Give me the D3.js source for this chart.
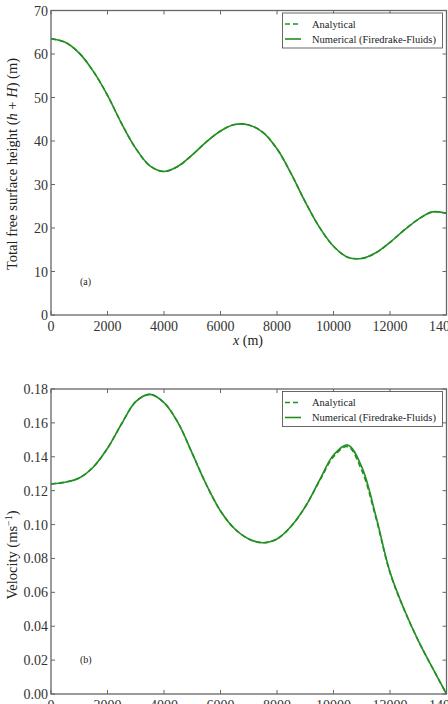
<!DOCTYPE html>
<html>
<head>
<meta charset="utf-8">
<script src="https://cdn.jsdelivr.net/npm/d3@7"></script>
<style>
  body { margin: 0; background: #fff; }
  svg { display: block; font-family: "Liberation Serif", "DejaVu Serif", serif; }
</style>
</head>
<body>
<svg width="448" height="704"></svg>
<script>
// data
var xs = [0,500,1000,1500,2000,2500,3000,3500,4000,4500,5000,5500,6000,6500,7000,
          7500,8000,8500,9000,9500,10000,10500,11000,11500,12000,12500,13000,13500,14000];

// (a) total free surface height
var heightNum = [63.5,62.7,60.2,56.0,50.5,44.0,38.3,34.3,33.0,34.2,36.8,39.8,42.3,43.8,43.7,
                 42.0,38.2,32.5,26.0,20.2,15.8,13.3,13.0,14.3,16.7,19.5,22.0,23.7,23.4];
var heightAna = [63.5,62.7,60.2,56.0,50.5,44.0,38.3,34.3,33.0,34.2,36.8,39.8,42.3,43.8,43.7,
                 42.0,38.2,32.5,26.0,20.2,15.8,13.3,13.0,14.3,16.7,19.5,22.0,23.7,23.4];

// (b) velocity
var velNum = [0.1240,0.1250,0.1275,0.1340,0.1450,0.1595,0.1725,0.1768,0.1720,0.1600,0.1420,0.1235,0.1080,0.0975,0.0915,
              0.0893,0.0915,0.0990,0.1105,0.1260,0.1410,0.1470,0.1340,0.1050,0.0720,0.0500,0.0315,0.0155,0.0000];
var velAna = [0.1240,0.1250,0.1275,0.1340,0.1450,0.1595,0.1725,0.1768,0.1720,0.1600,0.1420,0.1235,0.1080,0.0975,0.0915,
              0.0893,0.0915,0.0990,0.1105,0.1255,0.1400,0.1460,0.1320,0.1040,0.0715,0.0498,0.0315,0.0155,0.0000];

var xTicks = [0,2000,4000,6000,8000,10000,12000,14000];
var hTicks = [0,10,20,30,40,50,60,70];
var vTicks = [0,0.02,0.04,0.06,0.08,0.10,0.12,0.14,0.16,0.18];
var legendNames = ["Analytical", "Numerical (Firedrake-Fluids)"];

var GREEN = "#238f23";
var AXIS = "#666";
var svg = d3.select("svg");

function drawPanel(opt){
    var g = svg.append("g");
    var x = d3.scaleLinear().domain([0,14000]).range([opt.left, opt.right]);
    var y = d3.scaleLinear().domain(opt.ydom).range([opt.bottom, opt.top]);

    // ticks (inward, all four sides)
    var tk = g.append("g").attr("stroke", AXIS).attr("stroke-width", 1);
    xTicks.forEach(function(t){
        tk.append("line").attr("x1", x(t)).attr("x2", x(t)).attr("y1", opt.bottom).attr("y2", opt.bottom-4);
        tk.append("line").attr("x1", x(t)).attr("x2", x(t)).attr("y1", opt.top).attr("y2", opt.top+4);
    });
    opt.yticks.forEach(function(t){
        tk.append("line").attr("x1", opt.left).attr("x2", opt.left+4).attr("y1", y(t)).attr("y2", y(t));
        tk.append("line").attr("x1", opt.right).attr("x2", opt.right-4).attr("y1", y(t)).attr("y2", y(t));
    });

    // tick labels
    g.selectAll(".xl").data(xTicks).enter().append("text")
        .attr("x", function(d){ return x(d); })
        .attr("y", opt.bottom + 16)
        .attr("text-anchor", "middle")
        .attr("font-size", 14).attr("fill", "#333")
        .text(function(d){ return d; });
    g.selectAll(".yl").data(opt.yticks).enter().append("text")
        .attr("x", opt.left - 3)
        .attr("y", function(d){ return y(d) + 5; })
        .attr("text-anchor", "end")
        .attr("font-size", 14).attr("fill", "#333")
        .text(opt.yfmt);

    // curves
    var line = d3.line()
        .x(function(d, i){ return x(xs[i]); })
        .y(function(d){ return y(d); })
        .curve(d3.curveCatmullRom.alpha(0.5));
    g.append("path").attr("d", line(opt.num))
        .attr("fill", "none").attr("stroke", GREEN).attr("stroke-width", 1.6);
    g.append("path").attr("d", line(opt.ana))
        .attr("fill", "none").attr("stroke", GREEN).attr("stroke-width", 1.6)
        .attr("stroke-dasharray", "5,3");

    // frame
    g.append("rect")
        .attr("x", opt.left).attr("y", opt.top)
        .attr("width", opt.right-opt.left).attr("height", opt.bottom-opt.top)
        .attr("fill", "none").attr("stroke", AXIS).attr("stroke-width", 1.3);

    // legend
    var lg = g.append("g");
    lg.append("rect").attr("x", 282.5).attr("y", opt.top+2.5).attr("width", 160).attr("height", 35)
        .attr("fill", "#fff").attr("stroke", "#444").attr("stroke-width", 0.8);
    legendNames.forEach(function(name, i){
        var ly = opt.top + 13.5 + i*15;
        lg.append("line").attr("x1", 285).attr("x2", 301).attr("y1", ly).attr("y2", ly)
            .attr("stroke", GREEN).attr("stroke-width", 1.6)
            .attr("stroke-dasharray", i == 0 ? "5,3" : null);
        lg.append("text").attr("x", 312).attr("y", ly + 3.5)
            .attr("font-size", 10.5).attr("fill", "#222").text(name);
    });

    // panel tag
    g.append("text").attr("x", 80).attr("y", opt.tagY).attr("font-size", 10).attr("fill", "#222").text(opt.tag);
    return {x: x, y: y, g: g};
}

// (a)
var pa = drawPanel({left:51, right:446.5, top:10.5, bottom:315, ydom:[0,70],
    yticks:hTicks, yfmt:function(d){ return d; },
    num:heightNum, ana:heightAna, tag:"(a)", tagY:285});

// x label
var xl = svg.append("text").attr("x", 248).attr("y", 345).attr("text-anchor", "middle")
    .attr("font-size", 14).attr("fill", "#222");
xl.append("tspan").attr("font-style", "italic").text("x");
xl.append("tspan").text(" (m)");

// y label (a)
var yla = svg.append("text")
    .attr("transform", "translate(17,164) rotate(-90)")
    .attr("text-anchor", "middle").attr("font-size", 14.5).attr("fill", "#222");
yla.append("tspan").text("Total free surface height (");
yla.append("tspan").attr("font-style", "italic").text("h");
yla.append("tspan").text(" + ");
yla.append("tspan").attr("font-style", "italic").text("H");
yla.append("tspan").text(") (m)");

// (b)
var pb = drawPanel({left:51, right:446.5, top:389, bottom:694, ydom:[0,0.18],
    yticks:vTicks, yfmt:d3.format(".2f"),
    num:velNum, ana:velAna, tag:"(b)", tagY:663});

var ylb = svg.append("text")
    .attr("transform", "translate(17,555) rotate(-90)")
    .attr("text-anchor", "middle").attr("font-size", 14.5).attr("fill", "#222");
ylb.append("tspan").text("Velocity (ms");
ylb.append("tspan").attr("baseline-shift", "super").attr("font-size", 10).text("\u22121");
ylb.append("tspan").text(")");
</script>
</body>
</html>
